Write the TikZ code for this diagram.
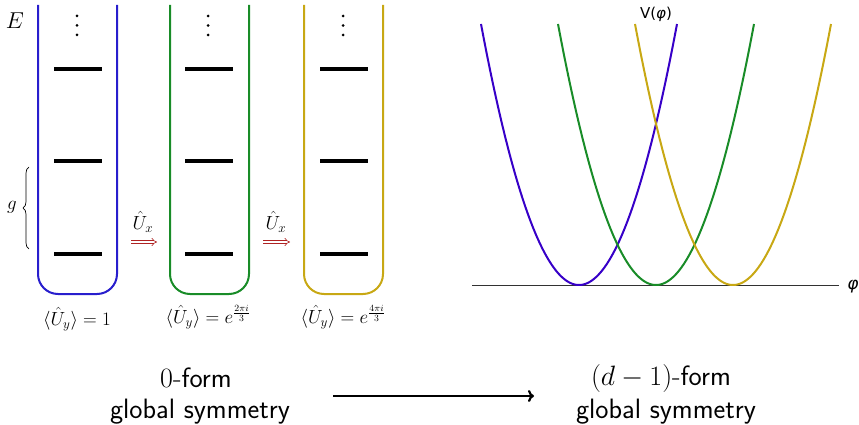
\RequirePackage{fix-cm}
\documentclass[tikz,border=0pt]{standalone}
\usepackage{fontspec}
\usepackage{amsmath}
\newfontfamily\dejavu{DejaVu Sans}
\usetikzlibrary{arrows.meta,decorations.pathreplacing}
\definecolor{cblue}{RGB}{40,30,205}
\definecolor{pblue}{RGB}{55,0,200}
\definecolor{cgreen}{RGB}{25,140,40}
\definecolor{cyellow}{RGB}{200,168,20}
\definecolor{ured}{RGB}{175,35,35}
\definecolor{axisgray}{RGB}{50,50,50}
\begin{document}
\begin{tikzpicture}[x=1pt,y=-1pt,
  boxline/.style={line width=2pt, rounded corners=20pt},
  level/.style={line width=4pt},
  curve/.style={line width=2pt, samples=120, domain=-98:98},
  uarrow/.style={ured, line width=0.6pt, double, double distance=2.2pt, -{Implies[length=5pt,width=8pt]}},
  lab/.style={font=\fontsize{19}{22}\selectfont, inner sep=0pt},
  big/.style={font=\fontsize{28}{32}\selectfont, inner sep=0pt}
]
\useasboundingbox (0,0) rectangle (859,425);

% --- boxes
\draw[boxline,cblue] (38,5) -- (38,294) -- (117,294) -- (117,5);
\draw[boxline,cgreen] (170,5) -- (170,294) -- (249,294) -- (249,5);
\draw[boxline,cyellow] (304,5) -- (304,294) -- (383,294) -- (383,5);

% --- levels
\foreach \cx in {78,209,344}{
  \foreach \yy in {69,161,254}{
    \draw[level] (\cx-24,\yy) -- (\cx+24,\yy);
  }
  \foreach \yy in {16,25.5,35}{
    \fill (\cx-1,\yy) circle (1.5pt);
  }
}

% --- E and brace
\node[font=\fontsize{23}{27}\selectfont, inner sep=0pt] (E) at (15,21) {$E$};
\draw[decorate, decoration={brace, amplitude=6pt}, line width=0.7pt] (29,249) -- (29,167);
\node[lab] (g) at (12,207) {$g$};

% --- U_x arrows
\node[lab] (ux1) at (143,222) {$\hat U_x$};
\node[lab] (ux2) at (276,222) {$\hat U_x$};
\coordinate (a1s) at (131,242); \coordinate (a1e) at (157,242);
\coordinate (a2s) at (263,242); \coordinate (a2e) at (290,242);
\draw[uarrow] (a1s) -- (a1e);
\draw[uarrow] (a2s) -- (a2e);

% --- expectation labels
\node[lab] (l1) at (77,319) {$\langle\hat U_y\rangle = 1$};
\node[lab] (l2) at (208,317) {$\langle\hat U_y\rangle = e^{\frac{2\pi i}{3}}$};
\node[lab] (l3) at (343,317) {$\langle\hat U_y\rangle = e^{\frac{4\pi i}{3}}$};

% --- potential
\draw[axisgray, line width=1pt] (472,285) -- (839,285);
\draw[curve,pblue] plot ({579+\x},{285-261*(\x/98)^2});
\draw[curve,cgreen] plot ({656+\x},{285-261*(\x/98)^2});
\draw[curve,cyellow] plot ({733+\x},{285-261*(\x/98)^2});
\node[font=\dejavu\fontsize{15}{17}\selectfont, inner sep=0pt] (V) at (656,14) {V(\textit{φ})};
\node[font=\dejavu\fontsize{17}{19}\selectfont\itshape, inner sep=0pt] (phi) at (853,287) {φ};

% --- bottom
\node[big] (z1) at (196,378) {$0$-\textsf{form}};
\node[big] (z2) at (200,412) {\textsf{global symmetry}};
\node[big] (d1) at (661,378) {$(d-1)$-\textsf{form}};
\node[big] (d2) at (666,412) {\textsf{global symmetry}};
\coordinate (bs) at (333,396); \coordinate (be) at (534,396);
\draw[line width=2.2pt, -{To[length=6pt,width=12pt]}] (bs) -- (be);
\end{tikzpicture}
\end{document}
